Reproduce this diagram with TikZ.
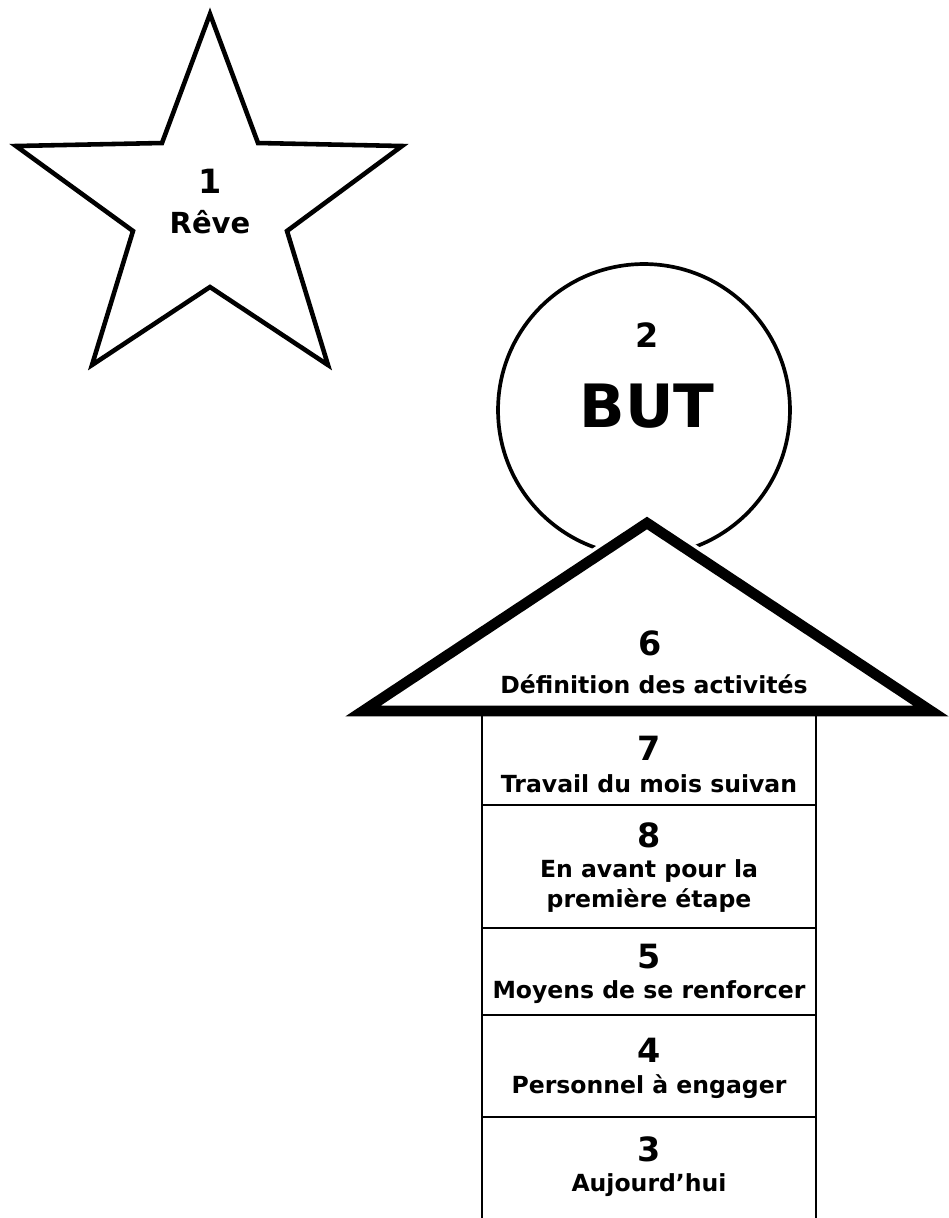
\documentclass[tikz,border=0pt]{standalone}
\usepackage{fontspec}
\setmainfont{DejaVu Sans}
\usetikzlibrary{positioning}

\newcommand{\numfont}{\fontsize{19}{21}\selectfont\bfseries}
\newcommand{\labfont}{\fontsize{13.4}{17.5}\selectfont\bfseries}

\begin{document}
\begin{tikzpicture}[x=0.02cm, y=-0.02cm,
    stepbox/.style={rectangle, draw, line width=1pt, inner sep=0, outer sep=0, minimum width=6.68cm},
    numtext/.style={font=\numfont, inner sep=0, anchor=base},
    labtext/.style={font=\labfont, inner sep=0, anchor=base}]
	\useasboundingbox (0,0) rectangle (948,1218);

	% star
	\draw[line width=2.6pt, line join=miter] (210,14) -- (258,143) -- (402,146) -- (287,231) -- (328,365) -- (210,287) --
		(92,365) -- (133,231) -- (16,146) -- (162,143) -- cycle;
	\node[numtext] (dreamnum) at (210,193) {1};
	\node[labtext, font=\fontsize{16.5}{20}\selectfont\bfseries] (dream) at (210,233) {Rêve};

	% goal
	\node[circle, draw, line width=2.1pt, minimum size=5.84cm, inner sep=0] (goal) at (644,410) {};
	\node[numtext] (goalnum) at (647,347) {2};
	\node[numtext, font=\fontsize{34}{40}\selectfont\bfseries] (goaltext) at (647,427) {BUT};

	% roof
	\draw[white, line width=10pt] (363,711) -- (647,523) -- (931,711) -- cycle;
	\draw[line width=6pt, fill=white, line join=miter] (363,711) -- (647,523) -- (931,711) -- cycle;
	\node[numtext] (roofnum) at (650,655) {6};
	\node[labtext] (roof) at (654,693) {Définition des activités};

	% steps
	\node[stepbox, minimum height=1.84cm] (b7) at (649,759) {};
	\node[stepbox, minimum height=2.46cm, below=0pt of b7] (b8) {};
	\node[stepbox, minimum height=1.74cm, below=0pt of b8] (b5) {};
	\node[stepbox, minimum height=2.04cm, below=0pt of b5] (b4) {};
	\node[minimum width=6.68cm, minimum height=1.92cm, inner sep=0, outer sep=0, below=0pt of b4] (b3) {};
	\draw[line width=1pt] (b3.north west) -- (b3.south west) -- ++(0,20);
	\draw[line width=1pt] (b3.north east) -- (b3.south east) -- ++(0,20);

	\node[numtext] (n7) at (649,760) {7};
	\node[labtext] (t7) at (649,792) {Travail du mois suivan};
	\node[numtext] (n8) at (649,847) {8};
	\node[labtext] (t8) at (649,877) {En avant pour la};
	\node[labtext] (t8b) at (649,907) {première étape};
	\node[numtext] (n5) at (649,968) {5};
	\node[labtext] (t5) at (649,998) {Moyens de se renforcer};
	\node[numtext] (n4) at (649,1062) {4};
	\node[labtext] (t4) at (649,1093) {Personnel à engager};
	\node[numtext] (n3) at (649,1161) {3};
	\node[labtext] (t3) at (649,1191) {Aujourd’hui};
\end{tikzpicture}
\end{document}
